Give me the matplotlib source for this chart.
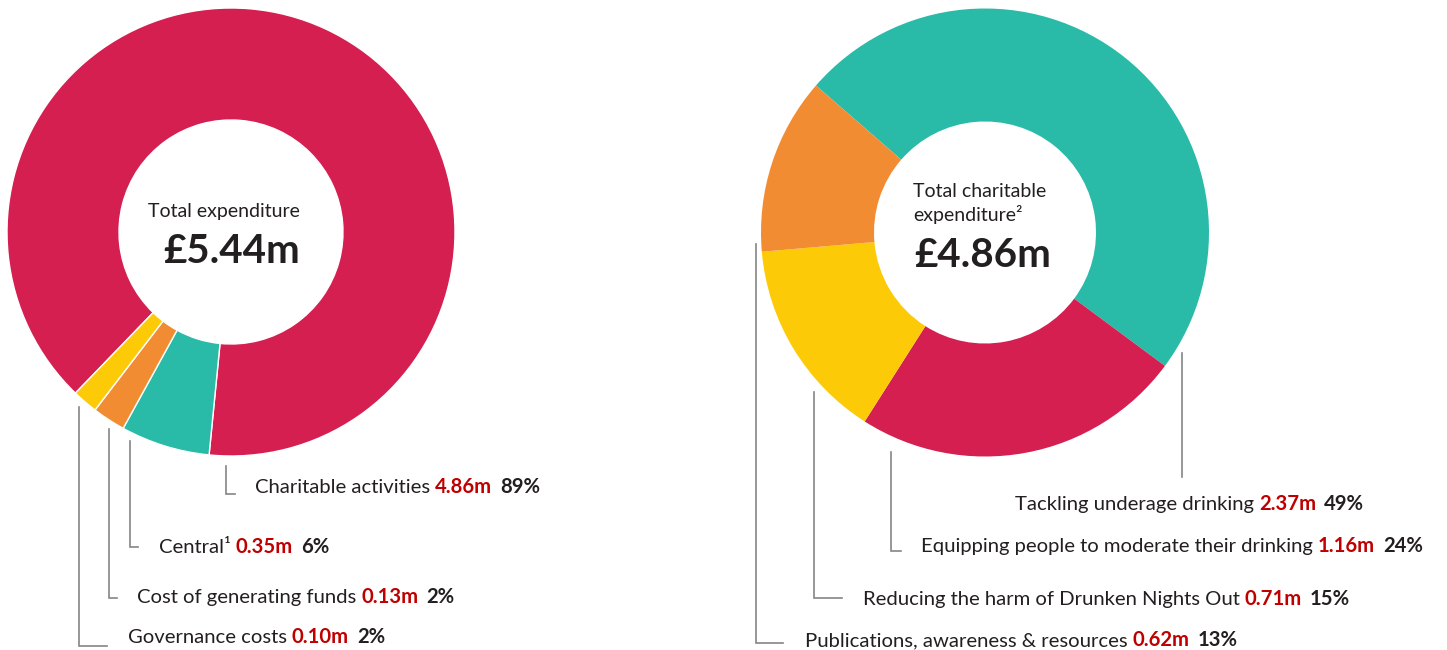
import matplotlib.pyplot as plt

plt.rcParams['font.family'] = ['Lato', 'DejaVu Sans']

# left donut: total expenditure (£m)
exp_labels = ["Charitable activities", "Central\u00b9", "Cost of generating funds", "Governance costs"]
exp_values = [4.86, 0.35, 0.13, 0.10]
exp_colors = ["#d41f50", "#29bba8", "#f28c33", "#fdca08"]

# right donut: charitable expenditure (£m)
char_labels = ["Tackling underage drinking", "Equipping people to moderate their drinking",
               "Reducing the harm of Drunken Nights Out", "Publications, awareness & resources"]
char_values = [2.37, 1.16, 0.71, 0.62]
char_colors = ["#29bba8", "#d41f50", "#fdca08", "#f28c33"]

RED_TXT = "#c00000"
DARK = "#231f20"
GREY = "#858585"
W, H = 1447, 650

fig = plt.figure(figsize=(W / 100, H / 100), dpi=100)
ax = fig.add_axes([0, 0, 1, 1])


def py(y):
    # pixel row (from top) -> data y
    return H - y


ax.pie(exp_values, colors=exp_colors, startangle=226, counterclock=False,
       center=(231, py(232)), radius=224,
       wedgeprops=dict(width=112, edgecolor="white", linewidth=1))
ax.pie(char_values, colors=char_colors, startangle=139, counterclock=False,
       center=(985, py(232.5)), radius=224,
       wedgeprops=dict(width=113, edgecolor="none"))

ax.set_xlim(0, W)
ax.set_ylim(0, H)
ax.axis("off")

# centre texts
ax.text(224, py(217), "Total expenditure", fontsize=14, color=DARK, ha="center", va="baseline")
ax.text(232, py(263), "\u00a3%.2fm" % sum(exp_values), fontsize=29, fontweight="bold",
        color=DARK, ha="center", va="baseline")
ax.text(913, py(197), "Total charitable", fontsize=14, color=DARK, ha="left", va="baseline")
ax.text(913, py(221), "expenditure\u00b2", fontsize=14, color=DARK, ha="left", va="baseline")
ax.text(914, py(267), "\u00a3%.2fm" % sum(char_values), fontsize=29, fontweight="bold",
        color=DARK, ha="left", va="baseline")

# leader lines: x, top, bottom, end of foot
exp_leaders = [(226, 466, 494, 235), (130, 441, 547, 138), (109, 429, 598, 117), (79, 407, 646, 107)]
char_leaders = [(1182, 353, 477, 1182), (891, 452, 551, 901), (814, 392, 598, 842), (756, 244, 643, 783)]
for x, y0, y1, x1 in exp_leaders + char_leaders:
    ax.plot([x, x, x1], [py(y0), py(y1), py(y1)], color=GREY, lw=1.2, solid_joinstyle="miter")

# label rows: start x, baseline
exp_rows = [(255, 493), (159, 553), (137, 603), (128, 643)]
char_rows = [(1015, 510), (921, 552), (863, 605), (805, 646)]

fig.canvas.draw()
renderer = fig.canvas.get_renderer()
inv = ax.transData.inverted()


def label_row(x, y, name, value, total):
    pct = "%d%%" % round(value / total * 100)
    parts = [(name, DARK, "normal", 5), ("%.2fm" % value, RED_TXT, "bold", 8), (pct, DARK, "bold", 0)]
    for s, c, wgt, gap in parts:
        t = ax.text(x, py(y), s, fontsize=14.6, color=c, fontweight=wgt, ha="left", va="baseline")
        bb = t.get_window_extent(renderer)
        x = inv.transform((bb.x1, 0))[0] + gap


for (x, y), name, v in zip(exp_rows, exp_labels, exp_values):
    label_row(x, y, name, v, sum(exp_values))
for (x, y), name, v in zip(char_rows, char_labels, char_values):
    label_row(x, y, name, v, sum(char_values))

fig.savefig("out.png", dpi=100, facecolor="white")
